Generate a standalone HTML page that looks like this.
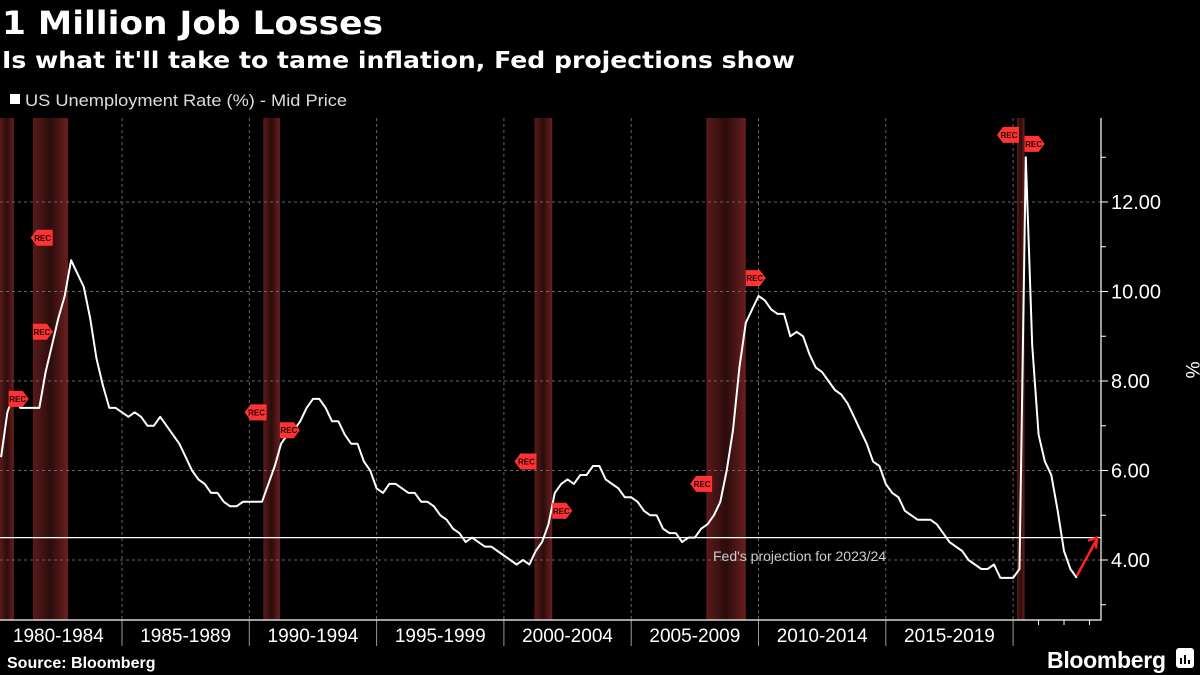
<!DOCTYPE html>
<html><head><meta charset="utf-8"><style>
html,body{margin:0;padding:0;background:#000;}
svg{display:block;font-family:"Liberation Sans",sans-serif;}
</style></head><body>
<svg id="chart" width="1200" height="675" viewBox="0 0 1200 675" xmlns="http://www.w3.org/2000/svg">
<defs>
<linearGradient id="recg" x1="0" x2="1" y1="0" y2="0">
<stop offset="0" stop-color="#5a1a1a"/><stop offset="0.5" stop-color="#2c0c0c"/><stop offset="1" stop-color="#6a1f1f"/>
</linearGradient>
</defs>
<text x="2" y="34" fill="#fff" font-size="32" font-weight="bold" font-family="DejaVu Sans, sans-serif" textLength="381" lengthAdjust="spacingAndGlyphs">1 Million Job Losses</text>
<text x="2" y="68" fill="#fff" font-size="23" font-weight="bold" font-family="DejaVu Sans, sans-serif" textLength="793" lengthAdjust="spacingAndGlyphs">Is what it'll take to tame inflation, Fed projections show</text>
<rect x="10" y="94" width="10" height="10" fill="#fff"/>
<text x="25" y="106" fill="#ddd" font-size="17" textLength="322" lengthAdjust="spacingAndGlyphs">US Unemployment Rate (%) - Mid Price</text>
<g id="bands"></g>
<g id="grid"></g>
<g id="axes"></g>
<line id="fedline" x1="0" x2="1101" stroke="#fff" stroke-width="1.2"/>
<text x="713" y="561" fill="#ccc" font-size="14">Fed's projection for 2023/24</text>
<g id="series"></g>
<g id="markers"></g>
<text x="7" y="668" fill="#fff" font-size="16" font-weight="bold">Source: Bloomberg</text>
<text x="1047" y="668" fill="#fff" font-size="23" font-weight="bold" textLength="119">Bloomberg</text>
<rect x="1176" y="648" width="18" height="20" rx="3" fill="#fff"/>
<path d="M1181 664v-6M1185 664v-9M1189 664v-4" stroke="#000" stroke-width="2"/>
</svg>
<script>
const yTicks=[4,6,8,10,12];
const yMinor=[3,5,7,9,11,13];
const xBoundaries=[1985,1990,1995,2000,2005,2010,2015,2020];
const xLabels=["1980-1984","1985-1989","1990-1994","1995-1999","2000-2004","2005-2009","2010-2014","2015-2019"];
const recessions=[[1979.75,1980.75],[1981.5,1982.88],[1990.55,1991.2],[2001.2,2001.9],[2007.95,2009.5],[2020.15,2020.45]];
const fedProjection=4.5;
const startYear=1980.25;
const rates=[6.3,7.3,7.7,7.4, 7.4,7.4,7.4,8.2, 8.8,9.4,9.9,10.7, 10.4,10.1,9.4,8.5, 7.9,7.4,7.4,7.3,
7.2,7.3,7.2,7.0, 7.0,7.2,7.0,6.8, 6.6,6.3,6.0,5.8, 5.7,5.5,5.5,5.3, 5.2,5.2,5.3,5.3,
5.3,5.3,5.7,6.1, 6.6,6.8,6.9,7.1, 7.4,7.6,7.6,7.4, 7.1,7.1,6.8,6.6, 6.6,6.2,6.0,5.6,
5.5,5.7,5.7,5.6, 5.5,5.5,5.3,5.3, 5.2,5.0,4.9,4.7, 4.6,4.4,4.5,4.4, 4.3,4.3,4.2,4.1,
4.0,3.9,4.0,3.9, 4.2,4.4,4.8,5.5, 5.7,5.8,5.7,5.9, 5.9,6.1,6.1,5.8, 5.7,5.6,5.4,5.4,
5.3,5.1,5.0,5.0, 4.7,4.6,4.6,4.4, 4.5,4.5,4.7,4.8, 5.0,5.3,6.0,6.9, 8.3,9.3,9.6,9.9,
9.8,9.6,9.5,9.5, 9.0,9.1,9.0,8.6, 8.3,8.2,8.0,7.8, 7.7,7.5,7.2,6.9, 6.6,6.2,6.1,5.7,
5.5,5.4,5.1,5.0, 4.9,4.9,4.9,4.8, 4.6,4.4,4.3,4.2, 4.0,3.9,3.8,3.8, 3.9,3.6,3.6,3.6,
3.8,13.0,8.8,6.8, 6.2,5.9,5.1,4.2, 3.8,3.6];
const recLabels=[[1980.0,7.9],[1980.55,7.6],[1982.2,11.2],[1981.5,9.1],[1990.6,7.3],[1991.2,6.9],[2001.2,6.2],[2001.9,5.1],[2008.1,5.7],[2009.5,10.3],[2020.15,13.5],[2020.45,13.3]];
const NS="http://www.w3.org/2000/svg";
const X=t=>122+(t-1985)*25.46;
const Y=v=>560-(v-4)*44.75;
function mk(tag,attrs,parent){const e=document.createElementNS(NS,tag);for(const k in attrs)e.setAttribute(k,attrs[k]);parent.appendChild(e);return e;}
const bands=document.getElementById('bands'),grid=document.getElementById('grid'),axes=document.getElementById('axes'),series=document.getElementById('series'),markers=document.getElementById('markers');
const TOP=118,BOT=620,RIGHT=1101;
recessions.forEach(r=>{const x0=Math.max(0,X(r[0])),x1=X(r[1]);
const e=mk('rect',{x:x0,y:TOP,width:x1-x0,height:BOT-TOP,fill:'url(#recg)'},bands);

});
yTicks.forEach(v=>{const e=mk('line',{x1:0,x2:RIGHT,y1:Y(v),y2:Y(v),stroke:'#666','stroke-dasharray':'3,3','stroke-width':1},grid);


const t=mk('text',{x:1111,y:Y(v)+7,fill:'#fff','font-size':20},axes);t.textContent=v.toFixed(2);


mk('line',{x1:RIGHT,x2:RIGHT+7,y1:Y(v),y2:Y(v),stroke:'#fff'},axes);});
yMinor.forEach(v=>{mk('line',{x1:RIGHT,x2:RIGHT+5,y1:Y(v),y2:Y(v),stroke:'#fff'},axes);});
xBoundaries.forEach(t=>{const e=mk('line',{x1:X(t),x2:X(t),y1:TOP,y2:BOT,stroke:'#666','stroke-dasharray':'3,3'},grid);


mk('line',{x1:X(t),x2:X(t),y1:BOT,y2:646,stroke:'#999'},axes);});
[2021,2022,2023].forEach(t=>mk('line',{x1:X(t),x2:X(t),y1:BOT,y2:BOT+5,stroke:'#fff'},axes));
xLabels.forEach((l,i)=>{const t=mk('text',{x:X(1982.5+5*i),y:642,fill:'#fff','font-size':19,'text-anchor':'middle'},axes);t.textContent=l;

});
const ax=mk('path',{d:`M${RIGHT} ${TOP}V${BOT}H0`,stroke:'#fff',fill:'none','stroke-width':1.2},axes);


const pct=mk('text',{x:1186,y:370,fill:'#fff','font-size':19,'text-anchor':'middle',transform:'rotate(90 1186 370)'},axes);pct.textContent='%';


document.getElementById('fedline').setAttribute('y1',Y(fedProjection));
document.getElementById('fedline').setAttribute('y2',Y(fedProjection));
const pts=rates.map((v,i)=>X(startYear+i*0.25).toFixed(1)+','+Y(v).toFixed(1)).join(' ');
const pl=mk('polyline',{points:pts,fill:'none',stroke:'#fff','stroke-width':2,'stroke-linejoin':'round'},series);


const lastX=X(startYear+(rates.length-1)*0.25),lastY=Y(rates[rates.length-1]);
const ar=mk('path',{d:`M${lastX} ${lastY-2}L${RIGHT-5} ${Y(fedProjection)+3}M${RIGHT-13} ${Y(fedProjection)+3}L${RIGHT-4} ${Y(fedProjection)}L${RIGHT-5} ${Y(fedProjection)+11}`,stroke:'#f22',fill:'none','stroke-width':2.5},series);


recLabels.forEach((r,i)=>{const x=X(r[0]),y=Y(r[1]);const left=i%2===0;
const d=left?`M${x-20} ${y}l6 -8h16v16h-16z`:`M${x} ${y-8}h14l6 8l-6 8h-14z`;
const g=mk('g',{},markers);


mk('path',{d:d,fill:'#f33'},g);
const t=mk('text',{x:left?x-8:x+9,y:y+3,fill:'#200','font-size':8,'font-weight':'bold','text-anchor':'middle'},g);t.textContent='REC';});
</script>
</body></html>
